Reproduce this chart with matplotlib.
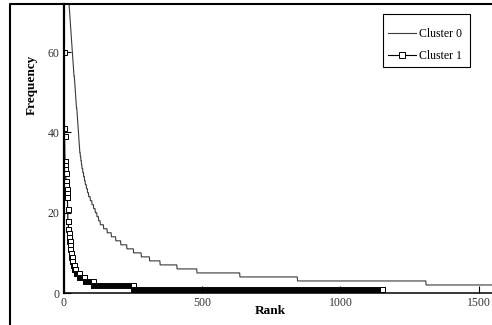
import numpy as np
import matplotlib
matplotlib.use('Agg')
import matplotlib.pyplot as plt
from matplotlib.lines import Line2D
from matplotlib.patches import Rectangle

# rank-frequency data, stored as runs: frequency value and how many ranks carry it
c0_freq = [200, 160, 140, 125, 115, 106, 99, 94, 90, 87, 84, 82, 80, 78, 77, 76, 75, 74, 73, 72,
           71, 70, 69, 68, 67, 66, 65, 64, 63, 62, 61, 60,
           59, 58, 57, 56, 55, 54, 53, 52, 51, 50, 49, 48, 47, 46, 45, 44, 43, 42, 41,
           40, 39, 38, 37, 36, 35, 34, 33,
           32, 31, 30, 29, 28, 27, 26, 25,
           24, 23, 22, 21, 20, 19, 18,
           17, 16, 15, 14, 13, 12, 11, 10, 9, 8, 7, 6, 5, 4, 3, 2]
c0_count = [1] * 20 + [1] * 12 + \
           [1, 1, 1, 1, 1, 2, 1, 1, 1, 1, 1, 1, 1, 2, 1, 1, 1, 1, 1] + \
           [1, 1, 1, 1, 1, 2, 2, 2] + \
           [2, 3, 3, 3, 3, 4, 4, 4] + \
           [6] * 7 + \
           [12, 13, 15, 16, 18, 22, 24, 28, 30, 38, 61, 72, 155, 208, 464, 260]

c1_freq = [90, 60, 41, 39, 33, 32, 31, 30, 28, 27, 26, 25, 24, 21, 18, 16, 15, 14, 13, 12, 11,
           10, 9, 8, 7, 6, 5, 4, 3, 2, 1]
c1_count = [1, 1, 1, 1, 1, 1, 1, 1, 1, 1, 1, 1, 2, 1, 2, 1, 1, 1, 2, 2, 1,
            2, 2, 3, 5, 6, 12, 20, 30, 145, 900]

x_ticks = [0, 500, 1000, 1500]
y_ticks = [0, 20, 40, 60]

y0 = np.repeat(c0_freq, c0_count)
y1 = np.repeat(c1_freq, c1_count)
x0 = np.arange(1, len(y0) + 1)
x1 = np.arange(1, len(y1) + 1)

plt.rcParams['font.family'] = ['Liberation Serif', 'DejaVu Serif']

dpi = 100
fig = plt.figure(figsize=(492 / dpi, 325 / dpi), dpi=dpi)
ax = fig.add_axes([63.5 / 492, 32 / 325, 1 - 63.5 / 492, 289 / 325])

ax.plot(x0, y0, color='#3a3a3a', lw=0.8, label='Cluster 0')
ax.plot(x1, y1, color='black', lw=0.8, marker='s', markersize=3.6,
        markerfacecolor='white', markeredgecolor='black', markeredgewidth=0.7,
        label='Cluster 1')

ax.set_xlim(0, 1547)
ax.set_ylim(0, 72)
ax.set_xticks(x_ticks)
ax.set_yticks(y_ticks)
ax.tick_params(direction='in', length=5, width=0.8, labelsize=8.5,
               labelcolor='#333333')
ax.tick_params(axis='x', pad=3)
ax.tick_params(axis='y', pad=3)

for s in ['top', 'right']:
    ax.spines[s].set_visible(False)
ax.spines['left'].set_linewidth(1.6)
ax.spines['bottom'].set_linewidth(1.1)

ax.set_xlabel('Rank', fontsize=9.5, fontweight='bold')
ax.xaxis.set_label_coords(0.482, -0.062)
ax.xaxis.label.set_va('center')
ax.set_ylabel('Frequency', fontsize=9.5, fontweight='bold')
ax.yaxis.set_label_coords(-0.074, 0.72)
ax.yaxis.label.set_va('center')

# legend entries without frame, box drawn separately (padding is uneven)
leg = ax.legend(loc='upper left', bbox_to_anchor=(324.5 / 428.5, 1 - 24 / 289),
                fontsize=8.5, frameon=False, handlelength=2.4,
                handletextpad=0.25, borderpad=0, labelspacing=0.85,
                markerscale=1.1, numpoints=1, borderaxespad=0)
ax.add_patch(Rectangle((319.5 / 428.5, 1 - 63 / 289), 87 / 428.5, 53 / 289,
                       transform=ax.transAxes, fill=False, edgecolor='black',
                       lw=0.8, zorder=5))

# outer frame of the original picture
fig.add_artist(Line2D([10 / 492, 10 / 492, 1], [0, 1 - 4 / 325, 1 - 4 / 325],
                      transform=fig.transFigure, color='black', lw=1.5))

fig.savefig('out.png', dpi=dpi)
